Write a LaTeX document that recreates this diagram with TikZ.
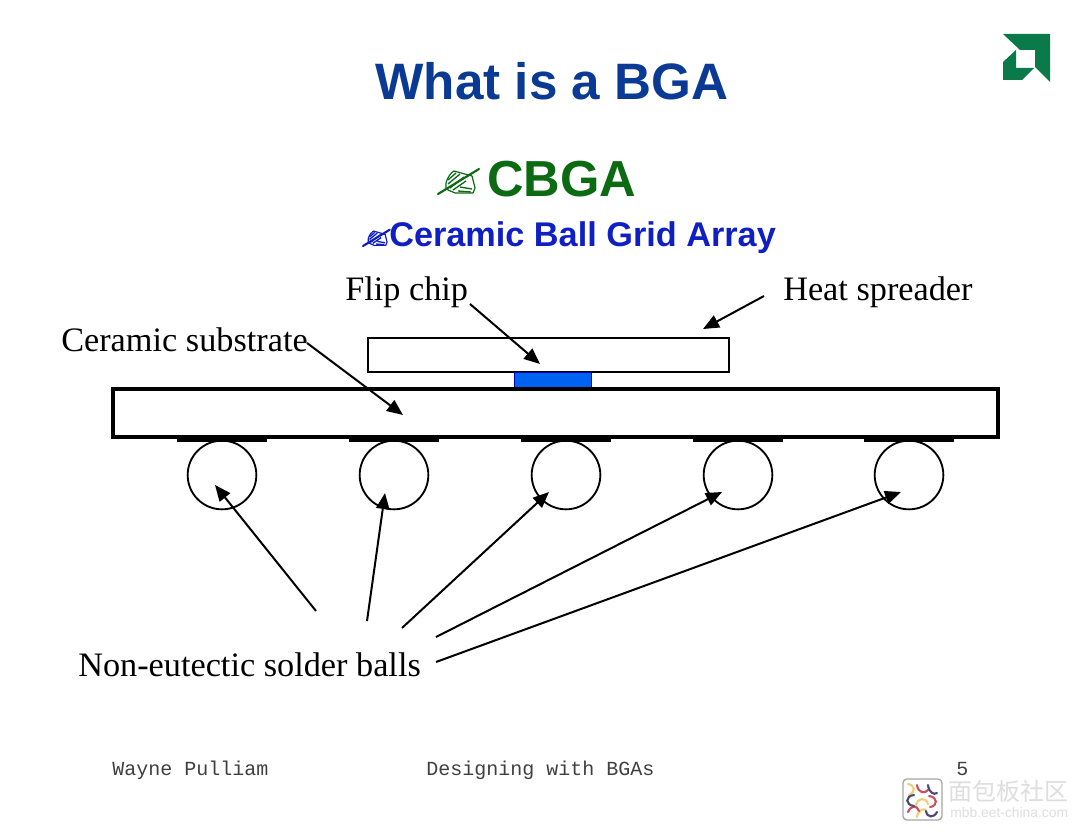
\documentclass[tikz,border=0pt]{standalone}
\usepackage{fontspec}
\setmainfont{Liberation Serif}
\setsansfont{Liberation Sans}
\setmonofont{Liberation Mono}
\newfontfamily\cjkfont{Noto Sans CJK SC}
\usetikzlibrary{arrows.meta}
\definecolor{titleblue}{HTML}{0A3A94}
\definecolor{cbgagreen}{HTML}{0B6A12}
\definecolor{subblue}{HTML}{0F1FC4}
\definecolor{chipblue}{HTML}{0062F0}
\definecolor{amdgreen}{HTML}{0A7A4A}
\definecolor{markgray}{HTML}{DEDEDE}
\definecolor{wavered}{HTML}{C8505F}
\definecolor{waveyellow}{HTML}{F0CE78}
\definecolor{wavenavy}{HTML}{4A4A78}
\tikzset{
  x=0.75pt,y=-0.75pt,
  lbl/.style={inner sep=0pt,anchor=base west,font=\rmfamily\fontsize{25.7}{30}\selectfont},
  foot/.style={inner sep=0pt,anchor=base west,text=black!75,font=\ttfamily\fontsize{15}{18}\selectfont},
  ball/.style={circle,draw=black,line width=1.4pt,minimum size=51.5pt,inner sep=0pt},
  pad/.style={fill=black,draw=none},
  callout/.style={line width=1.5pt,-{Triangle[length=12pt,width=10pt]}},
  wave/.style={line width=1.6pt,line cap=round},
  % Writing hand bullet: pen stroke plus an outlined fist around it
  pics/penhand/.style={code={
    \draw[line width=1.6pt,#1,line cap=round] (0,0) -- (41,-25);
    \draw[line width=0.9pt,#1,line join=round]
      (8,-11) .. controls (10,-18) and (13,-21) .. (16,-23)
      -- (34,-18) -- (37,-6) -- (35,-1) -- (17,-1) -- (8,-5) -- cycle;
    \draw[line width=1pt,#1]
      (10,-10) -- (22,-20) (10,-14) -- (18,-21) (12,-6) -- (26,-17)
      (15,-4) -- (28,-13) (22,-7) -- (34,-5) (20,-3) -- (33,-2);
  }}
}
\begin{document}
\begin{tikzpicture}
\useasboundingbox (0,0) rectangle (1080,831);
\fill[white] (0,0) rectangle (1080,831);

% Header texts
\node[inner sep=0pt,anchor=base,text=titleblue,font=\sffamily\bfseries\fontsize{38.4}{46}\selectfont] (title) at (552,100) {What is a BGA};
\node[inner sep=0pt,anchor=base west,text=cbgagreen,font=\sffamily\bfseries\fontsize{38}{46}\selectfont] (cbga) at (487,196) {CBGA};
\node[inner sep=0pt,anchor=base west,text=subblue,font=\sffamily\bfseries\fontsize{25.7}{30}\selectfont] (full) at (389,246) {Ceramic Ball Grid Array};
\pic at (438,194) {penhand=cbgagreen};
\pic[scale=0.65] at (363,246) {penhand=subblue};

% Corner logo
\fill[amdgreen] (1003,34) -- (1050,34) -- (1050,82) -- (1035,67) -- (1035,50) -- (1020,50) -- cycle;
\fill[amdgreen] (1003,80) -- (1003,62) -- (1016,50) -- (1016,68) -- (1034,68) -- (1022,80) -- cycle;

% Package cross-section
\node[draw=black,fill=white,line width=1.4pt,minimum width=270.75pt,minimum height=25.5pt,inner sep=0pt] (spreader) at (548.5,355) {};
\node[draw=blue!70!black,fill=chipblue,line width=0.6pt,minimum width=57.5pt,minimum height=12pt,inner sep=0pt] (chip) at (553,380) {};
\node[draw=black,fill=white,line width=3.2pt,minimum width=663.75pt,minimum height=36pt,inner sep=0pt] (substrate) at (555.5,413) {};
\foreach \n/\cx in {1/222,2/394,3/566,4/738,5/909}{
  \fill[pad] (\cx-45,437) rectangle (\cx+45,442);
  \node[ball] (ball\n) at (\cx,475) {};
}

% Labels
\node[lbl] (flip) at (345,300) {Flip chip};
\node[lbl] (heat) at (783,300) {Heat spreader};
\node[lbl] (ceramic) at (61,351) {Ceramic substrate};
\node[lbl] (solder) at (78,676) {Non-eutectic solder balls};

% Callout ends
\coordinate (flipS) at (470,304);
\coordinate (flipE) at (540,364);
\coordinate (heatS) at (764,296);
\coordinate (heatE) at (703,329);
\coordinate (ceramicS) at (307,343);
\coordinate (ceramicE) at (403,415);
\coordinate (s1) at (316,611);
\coordinate (e1) at (215,485);
\coordinate (s2) at (367,621);
\coordinate (e2) at (385,493);
\coordinate (s3) at (402,628);
\coordinate (e3) at (549,492);
\coordinate (s4) at (436,637);
\coordinate (e4) at (722,492);
\coordinate (s5) at (436,662);
\coordinate (e5) at (901,492);
\foreach \a/\b in {flipS/flipE,heatS/heatE,ceramicS/ceramicE,s1/e1,s2/e2,s3/e3,s4/e4,s5/e5}{
  \draw[callout] (\a) -- (\b);
}

% Footer
\node[foot] (author) at (112,775) {Wayne Pulliam};
\node[foot] (topic) at (426,775) {Designing with BGAs};
\node[foot] (page) at (956,775) {5};

% Publisher badge
\draw[rounded corners=3pt,fill=white,draw=black!35,line width=1pt] (903,779) rectangle (942,820);
\begin{scope}[wave]
  \draw[waveyellow]
    (908,784) .. controls (915,785) and (916,792) .. (909,795)
    (916,806) .. controls (917,797) and (926,797) .. (928,804)
    (917,817) .. controls (918,810) and (924,808) .. (926,810);
  \draw[wavered]
    (917,785) .. controls (918,793) and (925,794) .. (928,790)
    (929,796) .. controls (938,797) and (938,806) .. (930,807)
    (908,812) .. controls (911,805) and (917,805) .. (919,811);
  \draw[wavenavy]
    (928,785) .. controls (929,793) and (934,795) .. (937,793)
    (914,795) .. controls (905,796) and (905,805) .. (914,806)
    (926,811) .. controls (927,818) and (934,818) .. (937,812);
\end{scope}
\node[inner sep=0pt,anchor=base west,text=markgray,font=\cjkfont\fontsize{18}{22}\selectfont] (brand) at (948,800) {面包板社区};
\node[inner sep=0pt,anchor=base west,text=markgray,font=\sffamily\fontsize{10.4}{12}\selectfont] (site) at (950,817) {mbb.eet-china.com};
\end{tikzpicture}
\end{document}
